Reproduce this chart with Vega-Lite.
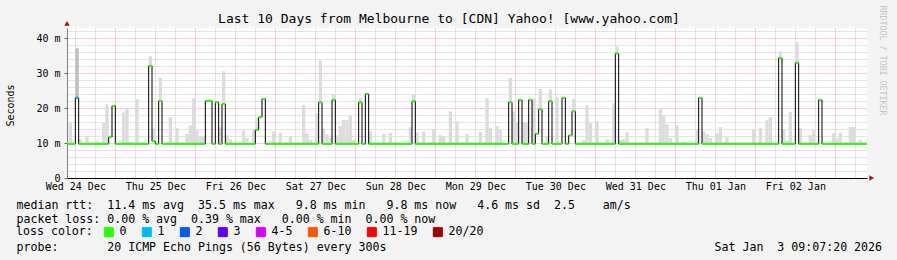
{
  "$schema": "https://vega.github.io/schema/vega-lite/v6.json",
  "width": 800,
  "height": 150,
  "autosize": {"type": "none"},
  "padding": {"left": 67, "top": 28, "right": 30, "bottom": 82},
  "background": "#f3f3f3",
  "config": {"view": {"fill": "white", "stroke": null}, "font": "DejaVu Sans Mono"},
  "datasets": {
    "med": [
      {"s":9.5,"e":12,"m":9.8,"loss":"0"},
      {"s":12,"e":13,"m":23.0,"loss":"1"},
      {"s":13,"e":22,"m":9.8,"loss":"0"},
      {"s":22,"e":23,"m":11.7,"loss":"0"},
      {"s":23,"e":24,"m":20.7,"loss":"0"},
      {"s":24,"e":34,"m":9.8,"loss":"0"},
      {"s":34,"e":35,"m":32.1,"loss":"0"},
      {"s":35,"e":36,"m":10.5,"loss":"0"},
      {"s":36,"e":37,"m":9.8,"loss":"0"},
      {"s":37,"e":38,"m":22.1,"loss":"0"},
      {"s":38,"e":51,"m":9.8,"loss":"0"},
      {"s":51,"e":53,"m":22.1,"loss":"0"},
      {"s":53,"e":54,"m":9.8,"loss":"0"},
      {"s":54,"e":55,"m":21.7,"loss":"0"},
      {"s":55,"e":56,"m":9.8,"loss":"0"},
      {"s":56,"e":57,"m":21.2,"loss":"0"},
      {"s":57,"e":66,"m":9.8,"loss":"0"},
      {"s":66,"e":67,"m":13.8,"loss":"0"},
      {"s":67,"e":68,"m":17.4,"loss":"0"},
      {"s":68,"e":69,"m":22.7,"loss":"0"},
      {"s":69,"e":85,"m":9.8,"loss":"0"},
      {"s":85,"e":86,"m":21.7,"loss":"0"},
      {"s":86,"e":89,"m":9.8,"loss":"0"},
      {"s":89,"e":90,"m":22.4,"loss":"0"},
      {"s":90,"e":97,"m":9.8,"loss":"0"},
      {"s":97,"e":98,"m":21.7,"loss":"0"},
      {"s":98,"e":99,"m":9.8,"loss":"0"},
      {"s":99,"e":100,"m":24.1,"loss":"0"},
      {"s":100,"e":113,"m":9.8,"loss":"0"},
      {"s":113,"e":114,"m":22.0,"loss":"0"},
      {"s":114,"e":142,"m":9.8,"loss":"0"},
      {"s":142,"e":143,"m":21.7,"loss":"0"},
      {"s":143,"e":145,"m":9.8,"loss":"0"},
      {"s":145,"e":146,"m":22.4,"loss":"0"},
      {"s":146,"e":148,"m":9.8,"loss":"0"},
      {"s":148,"e":149,"m":22.4,"loss":"0"},
      {"s":149,"e":150,"m":9.8,"loss":"0"},
      {"s":150,"e":151,"m":12.7,"loss":"0"},
      {"s":151,"e":152,"m":19.7,"loss":"0"},
      {"s":152,"e":154,"m":9.8,"loss":"0"},
      {"s":154,"e":155,"m":22.0,"loss":"0"},
      {"s":155,"e":158,"m":9.8,"loss":"0"},
      {"s":158,"e":159,"m":23.0,"loss":"0"},
      {"s":159,"e":160,"m":9.8,"loss":"0"},
      {"s":160,"e":161,"m":12.2,"loss":"0"},
      {"s":161,"e":162,"m":19.1,"loss":"0"},
      {"s":162,"e":174,"m":9.8,"loss":"0"},
      {"s":174,"e":175,"m":35.7,"loss":"0"},
      {"s":175,"e":199,"m":9.8,"loss":"0"},
      {"s":199,"e":200,"m":23.0,"loss":"0"},
      {"s":200,"e":223,"m":9.8,"loss":"0"},
      {"s":223,"e":224,"m":34.4,"loss":"0"},
      {"s":224,"e":228,"m":9.8,"loss":"0"},
      {"s":228,"e":229,"m":33.0,"loss":"0"},
      {"s":229,"e":235,"m":9.8,"loss":"0"},
      {"s":235,"e":236,"m":22.4,"loss":"0"},
      {"s":236,"e":249.5,"m":9.8,"loss":"0"},
      {"s":249.5,"m":9.8,"loss":"0"}
    ],
    "smoke": [
      {"s":10,"e":11,"lo":9.8,"hi":15.9},
      {"s":12,"e":13,"lo":23.0,"hi":37.2,"dark":true},
      {"s":13,"e":14,"lo":9.8,"hi":11.1},
      {"s":15,"e":16,"lo":9.8,"hi":12.0},
      {"s":18,"e":19,"lo":9.8,"hi":10.6},
      {"s":20,"e":21,"lo":9.8,"hi":15.8},
      {"s":21,"e":22,"lo":9.8,"hi":21.1},
      {"s":26,"e":27,"lo":9.8,"hi":18.8},
      {"s":27,"e":28,"lo":9.8,"hi":20.2},
      {"s":28,"e":29,"lo":9.8,"hi":10.3},
      {"s":30,"e":31,"lo":9.8,"hi":22.6},
      {"s":34,"e":35,"lo":32.1,"hi":34.9},
      {"s":35,"e":36,"lo":10.5,"hi":14.2},
      {"s":37,"e":38,"lo":22.1,"hi":28.7},
      {"s":40,"e":41,"lo":9.8,"hi":17.4},
      {"s":42,"e":43,"lo":9.8,"hi":14.3},
      {"s":45,"e":46,"lo":9.8,"hi":12.7},
      {"s":46,"e":47,"lo":9.8,"hi":15.1},
      {"s":47,"e":48,"lo":9.8,"hi":22.9},
      {"s":48,"e":49,"lo":9.8,"hi":13.7},
      {"s":49,"e":51,"lo":9.8,"hi":11.9},
      {"s":55,"e":56,"lo":9.8,"hi":14.5},
      {"s":56,"e":57,"lo":21.2,"hi":30.6},
      {"s":57,"e":58,"lo":9.8,"hi":12.3},
      {"s":58,"e":59,"lo":9.8,"hi":11.1},
      {"s":62,"e":63,"lo":9.8,"hi":13.7},
      {"s":63,"e":64,"lo":9.8,"hi":11.5},
      {"s":65,"e":66,"lo":9.8,"hi":13.8},
      {"s":66,"e":67,"lo":13.8,"hi":17.2},
      {"s":71,"e":72,"lo":9.8,"hi":13.4},
      {"s":73,"e":74,"lo":9.8,"hi":12.9},
      {"s":76,"e":77,"lo":9.8,"hi":11.9},
      {"s":80,"e":81,"lo":9.8,"hi":20.9},
      {"s":81,"e":82,"lo":9.8,"hi":12.8},
      {"s":82,"e":83,"lo":9.8,"hi":10.9},
      {"s":84,"e":85,"lo":9.8,"hi":18.6},
      {"s":85,"e":86,"lo":21.7,"hi":33.7},
      {"s":86,"e":87,"lo":9.8,"hi":14.2},
      {"s":87,"e":88,"lo":9.8,"hi":12.5},
      {"s":88,"e":89,"lo":9.8,"hi":11.5},
      {"s":89,"e":90,"lo":22.4,"hi":24.0},
      {"s":90,"e":91,"lo":9.8,"hi":12.2},
      {"s":91,"e":92,"lo":9.8,"hi":14.9},
      {"s":92,"e":93,"lo":9.8,"hi":16.6},
      {"s":93,"e":94,"lo":9.8,"hi":16.6},
      {"s":94,"e":95,"lo":9.8,"hi":17.9},
      {"s":95,"e":96,"lo":9.8,"hi":11.0},
      {"s":97,"e":98,"lo":21.7,"hi":22.9},
      {"s":100,"e":101,"lo":9.8,"hi":13.4},
      {"s":104,"e":105,"lo":9.8,"hi":12.6},
      {"s":106,"e":107,"lo":9.8,"hi":12.9},
      {"s":112,"e":113,"lo":9.8,"hi":14.6},
      {"s":113,"e":114,"lo":22.0,"hi":24.0},
      {"s":114,"e":115,"lo":9.8,"hi":13.1},
      {"s":116,"e":117,"lo":9.8,"hi":13.4},
      {"s":119,"e":120,"lo":9.8,"hi":14.0},
      {"s":121,"e":122,"lo":9.8,"hi":12.3},
      {"s":122,"e":123,"lo":9.8,"hi":12.0},
      {"s":124,"e":125,"lo":9.8,"hi":19.1},
      {"s":126,"e":127,"lo":9.8,"hi":16.3},
      {"s":129,"e":130,"lo":9.8,"hi":12.6},
      {"s":133,"e":134,"lo":9.8,"hi":13.1},
      {"s":135,"e":136,"lo":9.8,"hi":22.9},
      {"s":136,"e":137,"lo":9.8,"hi":14.3},
      {"s":138,"e":139,"lo":9.8,"hi":14.9},
      {"s":139,"e":140,"lo":9.8,"hi":13.9},
      {"s":142,"e":143,"lo":21.7,"hi":28.7},
      {"s":143,"e":144,"lo":9.8,"hi":19.1},
      {"s":144,"e":145,"lo":9.8,"hi":16.0},
      {"s":146,"e":148,"lo":9.8,"hi":16.1},
      {"s":149,"e":150,"lo":9.8,"hi":22.9},
      {"s":151,"e":152,"lo":19.7,"hi":25.5},
      {"s":153,"e":154,"lo":9.8,"hi":12.0},
      {"s":154,"e":155,"lo":22.0,"hi":25.4},
      {"s":156,"e":157,"lo":9.8,"hi":23.2},
      {"s":161,"e":162,"lo":19.1,"hi":22.7},
      {"s":164,"e":165,"lo":9.8,"hi":10.9},
      {"s":165,"e":166,"lo":9.8,"hi":20.9},
      {"s":166,"e":167,"lo":9.8,"hi":15.8},
      {"s":168,"e":169,"lo":9.8,"hi":16.3},
      {"s":171,"e":172,"lo":9.8,"hi":11.1},
      {"s":173,"e":174,"lo":9.8,"hi":21.4},
      {"s":174,"e":175,"lo":35.7,"hi":37.7},
      {"s":175,"e":176,"lo":9.8,"hi":10.9},
      {"s":176,"e":177,"lo":9.8,"hi":11.1},
      {"s":177,"e":178,"lo":9.8,"hi":13.1},
      {"s":183,"e":184,"lo":9.8,"hi":14.3},
      {"s":187,"e":188,"lo":9.8,"hi":19.7},
      {"s":188,"e":189,"lo":9.8,"hi":18.0},
      {"s":189,"e":190,"lo":9.8,"hi":15.4},
      {"s":190,"e":191,"lo":9.8,"hi":11.4},
      {"s":192,"e":193,"lo":9.8,"hi":15.1},
      {"s":194,"e":195,"lo":9.8,"hi":10.3},
      {"s":198,"e":199,"lo":9.8,"hi":13.7},
      {"s":200,"e":201,"lo":9.8,"hi":13.4},
      {"s":201,"e":202,"lo":9.8,"hi":12.6},
      {"s":202,"e":203,"lo":9.8,"hi":11.4},
      {"s":204,"e":205,"lo":9.8,"hi":12.9},
      {"s":205,"e":206,"lo":9.8,"hi":14.6},
      {"s":207,"e":208,"lo":9.8,"hi":11.7},
      {"s":215,"e":216,"lo":9.8,"hi":14.0},
      {"s":217,"e":218,"lo":9.8,"hi":14.3},
      {"s":219,"e":220,"lo":9.8,"hi":16.6},
      {"s":220,"e":221,"lo":9.8,"hi":17.4},
      {"s":223,"e":224,"lo":34.4,"hi":36.3},
      {"s":224,"e":225,"lo":9.8,"hi":14.0},
      {"s":225,"e":226,"lo":9.8,"hi":10.6},
      {"s":226,"e":227,"lo":9.8,"hi":18.9},
      {"s":228,"e":229,"lo":33.0,"hi":38.9},
      {"s":229,"e":230,"lo":9.8,"hi":14.3},
      {"s":232,"e":233,"lo":9.8,"hi":12.3},
      {"s":233,"e":234,"lo":9.8,"hi":13.7},
      {"s":239,"e":240,"lo":9.8,"hi":12.9},
      {"s":240,"e":241,"lo":9.8,"hi":11.4},
      {"s":241,"e":242,"lo":9.8,"hi":12.9},
      {"s":244,"e":246,"lo":9.8,"hi":14.6},
      {"s":247,"e":248,"lo":9.8,"hi":10.9}
    ]
  },
  "resolve": {"axis": {"x": "independent", "y": "independent"}},
  "layer": [
    {
      "data": {"name": "smoke"},
      "mark": {"type": "rect", "strokeWidth": 0},
      "encoding": {
        "x": {
          "field": "s", "type": "quantitative",
          "scale": {"domain": [9.5, 249.5], "nice": false, "zero": false},
          "axis": {
            "orient": "bottom",
            "values": [12,18,24,30,36,42,48,54,60,66,72,78,84,90,96,102,108,114,120,126,132,138,144,150,156,162,168,174,180,186,192,198,204,210,216,222,228,234,240,246],
            "labelExpr": "datum.value % 24 == 12 ? ['Wed 24 Dec','Thu 25 Dec','Fri 26 Dec','Sat 27 Dec','Sun 28 Dec','Mon 29 Dec','Tue 30 Dec','Wed 31 Dec','Thu 01 Jan','Fri 02 Jan'][floor(datum.value / 24)] : ''",
            "labelOverlap": false,
            "labelFlush": false,
            "labelFont": "DejaVu Sans Mono",
            "labelFontSize": 10,
            "labelColor": "black",
            "labelPadding": 3,
            "ticks": false,
            "domainColor": "black",
            "domainWidth": 1,
            "grid": true,
            "gridColor": {"condition": {"test": "datum.value % 24 == 0", "value": "#e6a3a3"}, "value": "#cbcbcb"},
            "gridDash": [1, 1],
            "gridWidth": 1,
            "title": [
              "median rtt:\u00a0\u00a011.4 ms avg\u00a0\u00a035.5 ms max\u00a0\u00a0\u00a09.8 ms min\u00a0\u00a0\u00a09.8 ms now\u00a0\u00a0\u00a04.6 ms sd\u00a0\u00a02.5\u00a0\u00a0\u00a0\u00a0am/s",
              "packet loss: 0.00 % avg\u00a0\u00a00.39 % max\u00a0\u00a0\u00a00.00 % min\u00a0\u00a00.00 % now",
              "\u200b",
              "probe:\u00a0\u00a0\u00a0\u00a0\u00a0\u00a0\u00a020 ICMP Echo Pings (56 Bytes) every 300s\u00a0\u00a0\u00a0\u00a0\u00a0\u00a0\u00a0\u00a0\u00a0\u00a0\u00a0\u00a0\u00a0\u00a0\u00a0\u00a0\u00a0\u00a0\u00a0\u00a0\u00a0\u00a0\u00a0\u00a0\u00a0\u00a0\u00a0\u00a0\u00a0\u00a0\u00a0\u00a0\u00a0\u00a0\u00a0\u00a0\u00a0\u00a0\u00a0\u00a0\u00a0\u00a0\u00a0\u00a0\u00a0\u00a0\u00a0Sat Jan\u00a0\u00a03 09:07:20 2026"
            ],
            "titleFont": "DejaVu Sans Mono",
            "titleFontSize": 11.6,
            "titleFontWeight": "normal",
            "titleColor": "black",
            "titleAnchor": "start",
            "titleAlign": "left",
            "titleBaseline": "alphabetic",
            "titleLineHeight": 14,
            "titleX": -51,
            "titleY": 30
          }
        },
        "x2": {"field": "e"},
        "y": {
          "field": "lo", "type": "quantitative",
          "scale": {"domain": [0, 43], "nice": false, "zero": true},
          "axis": {
            "orient": "left",
            "values": [0,2,4,6,8,10,12,14,16,18,20,22,24,26,28,30,32,34,36,38,40,42],
            "labelExpr": "datum.value % 10 == 0 ? (datum.value == 0 ? '0' : datum.value + ' m') : ''",
            "labelOverlap": false,
            "labelFlush": false,
            "labelFont": "DejaVu Sans Mono",
            "labelFontSize": 10,
            "labelColor": "black",
            "labelPadding": 4,
            "tickSize": 3,
            "tickColor": "#666666",
            "tickOpacity": {"condition": {"test": "datum.value % 10 == 0", "value": 1}, "value": 0},
            "domainColor": "#808080",
            "grid": true,
            "gridColor": {"condition": {"test": "datum.value % 10 == 0", "value": "#e6a3a3"}, "value": "#cbcbcb"},
            "gridDash": [1, 1],
            "title": "Seconds",
            "titleFont": "DejaVu Sans Mono",
            "titleFontSize": 10,
            "titleFontWeight": "normal",
            "titleColor": "black",
            "titleAngle": -90,
            "titleAlign": "center",
            "titleBaseline": "middle",
            "titleX": -57,
            "titleY": 77
          }
        },
        "y2": {"field": "hi"},
        "color": {"condition": {"test": "datum.dark", "value": "#bdbdbd"}, "value": "#dcdcdc"}
      }
    },
    {
      "data": {"name": "med"},
      "mark": {"type": "line", "interpolate": "step-after", "color": "black", "strokeWidth": 1},
      "encoding": {
        "x": {"field": "s", "type": "quantitative", "axis": null},
        "y": {"field": "m", "type": "quantitative", "axis": null}
      }
    },
    {
      "data": {"name": "med"},
      "transform": [{"filter": "isValid(datum.e)"}],
      "mark": {"type": "rule", "strokeWidth": 2, "strokeCap": "butt"},
      "encoding": {
        "x": {"field": "s", "type": "quantitative", "axis": null},
        "x2": {"field": "e"},
        "y": {"field": "m", "type": "quantitative", "axis": null},
        "color": {
          "field": "loss", "type": "nominal",
          "scale": {
            "domain": ["0", "1", "2", "3", "4-5", "6-10", "11-19", "20/20"],
            "range": ["#26ff00", "#00b8ff", "#0059ff", "#5e00ff", "#dd00ff", "#ff5500", "#ff0000", "#a10000"]
          },
          "legend": {
            "orient": "none",
            "legendX": -51,
            "legendY": 198,
            "direction": "horizontal",
            "title": "loss color:",
            "titleOrient": "left",
            "titleFont": "DejaVu Sans Mono",
            "titleFontSize": 11.6,
            "titleFontWeight": "normal",
            "titleColor": "black",
            "titlePadding": 10,
            "labelFont": "DejaVu Sans Mono",
            "labelFontSize": 11.6,
            "labelColor": "black",
            "labelOffset": 5,
            "columnPadding": 13,
            "symbolType": "square",
            "symbolSize": 81,
            "symbolStrokeWidth": 1,
            "padding": 0,
            "encode": {
              "symbols": {
                "update": {
                  "fill": {"scale": "color", "field": "value"},
                  "stroke": {"value": "black"},
                  "strokeWidth": {"value": 1},
                  "opacity": {"value": 1}
                }
              }
            }
          }
        }
      }
    },
    {
      "data": {"values": [{"arrow": "x"}]},
      "mark": {"type": "point", "shape": "triangle-right", "filled": true, "color": "#a01818", "size": 30, "opacity": 1},
      "encoding": {
        "x": {
          "datum": 250.9, "type": "quantitative",
          "axis": {
            "orient": "top",
            "labels": false, "ticks": false, "domain": false, "grid": false,
            "title": "Last 10 Days from Melbourne to [CDN] Yahoo! [www.yahoo.com]",
            "titleFont": "DejaVu Sans Mono",
            "titleFontSize": 13,
            "titleFontWeight": "normal",
            "titleColor": "black",
            "titleAlign": "center",
            "titleBaseline": "middle",
            "titleX": 381.5,
            "titleY": -10
          }
        },
        "y": {"datum": 0, "type": "quantitative", "axis": null}
      }
    },
    {
      "data": {"values": [{"arrow": "y"}]},
      "mark": {"type": "point", "shape": "triangle-up", "filled": true, "color": "#a01818", "size": 30, "opacity": 1},
      "encoding": {
        "x": {"datum": 9.5, "type": "quantitative", "axis": null},
        "y": {
          "datum": 44.3, "type": "quantitative",
          "axis": {
            "orient": "right",
            "labels": false, "ticks": false, "domain": false, "grid": false,
            "title": "RRDTOOL / TOBI OETIKER",
            "titleFont": "DejaVu Sans Mono",
            "titleFontSize": 8.3,
            "titleFontWeight": "normal",
            "titleColor": "#c4c4c4",
            "titleAngle": 90,
            "titleAlign": "left",
            "titleBaseline": "middle",
            "titleX": 14,
            "titleY": -23
          }
        }
      }
    }
  ]
}
